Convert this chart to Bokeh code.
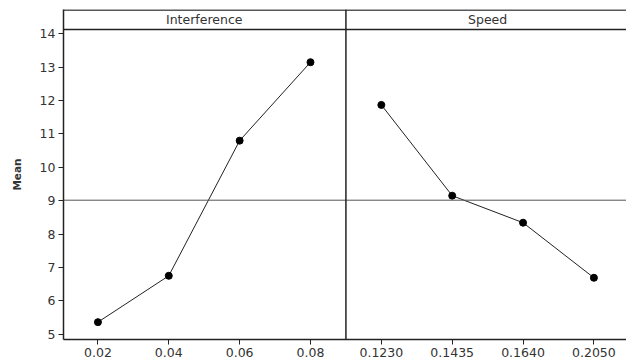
from bokeh.plotting import figure
from bokeh.models import Span, FixedTicker, Range1d, Label
from bokeh.embed import file_html
from bokeh.resources import INLINE

# ---- data ----
interference_levels = ["0.02", "0.04", "0.06", "0.08"]
interference_means = [5.36, 6.75, 10.80, 13.15]
speed_levels = ["0.1230", "0.1435", "0.1640", "0.2050"]
speed_means = [11.87, 9.15, 8.34, 6.69]
panel_titles = ["Interference", "Speed"]
y_ticks = [5, 6, 7, 8, 9, 10, 11, 12, 13, 14]

grand_mean = sum(interference_means) / len(interference_means)

FONT = "DejaVu Sans"
TXT = "#333333"

p = figure(width=626, height=361, output_backend="svg", toolbar_location=None,
           x_range=Range1d(-0.486, 7.46), y_range=Range1d(4.84, 14.73),
           min_border_left=63, min_border_right=0, min_border_top=9, min_border_bottom=22)
p.outline_line_color = None
p.grid.grid_line_color = None
p.background_fill_color = "white"

xi = list(range(len(interference_levels)))
xs = [len(interference_levels) + i for i in range(len(speed_levels))]

p.line(xi, interference_means, line_color="#222222", line_width=1)
p.scatter(xi, interference_means, size=7, fill_color="black", line_color="black")
p.line(xs, speed_means, line_color="#222222", line_width=1)
p.scatter(xs, speed_means, size=7, fill_color="black", line_color="black")

# reference line (grand mean)
p.add_layout(Span(location=grand_mean, dimension="width", line_color="#555555", line_width=1))
# panel divider
p.add_layout(Span(location=3.5, dimension="height", line_color="#222222", line_width=1.5))
# header strip lines
p.add_layout(Span(location=14.13, dimension="width", line_color="#222222", line_width=1.5))
p.add_layout(Span(location=14.715, dimension="width", line_color="#222222", line_width=1.5))

for cx, t in zip([1.5, 5.5], panel_titles):
    p.add_layout(Label(x=cx, y=14.43, text=t, text_align="center", text_baseline="middle",
                       text_font=FONT, text_font_size="12.5px", text_color=TXT))

# axes
ticks = xi + xs
labels = interference_levels + speed_levels
p.xaxis.ticker = FixedTicker(ticks=ticks)
p.xaxis.major_label_overrides = {t: l for t, l in zip(ticks, labels)}
p.yaxis.ticker = FixedTicker(ticks=y_ticks)
p.yaxis.axis_label = "Mean"
p.yaxis.axis_label_text_font = FONT
p.yaxis.axis_label_text_font_style = "bold"
p.yaxis.axis_label_text_font_size = "10.5px"
p.yaxis.axis_label_text_color = TXT
p.yaxis.axis_label_standoff = 14
for ax in (p.xaxis, p.yaxis):
    ax.minor_tick_line_color = None
    ax.major_tick_in = 0
    ax.major_tick_out = 5
    ax.major_label_standoff = 3
    ax.major_label_text_font = FONT
    ax.major_label_text_font_size = "12.5px"
    ax.major_label_text_color = TXT
    ax.axis_line_color = "#222222"
    ax.major_tick_line_color = "#222222"
    ax.axis_line_width = 1.5

open("out.html", "w").write(file_html(p, INLINE))
